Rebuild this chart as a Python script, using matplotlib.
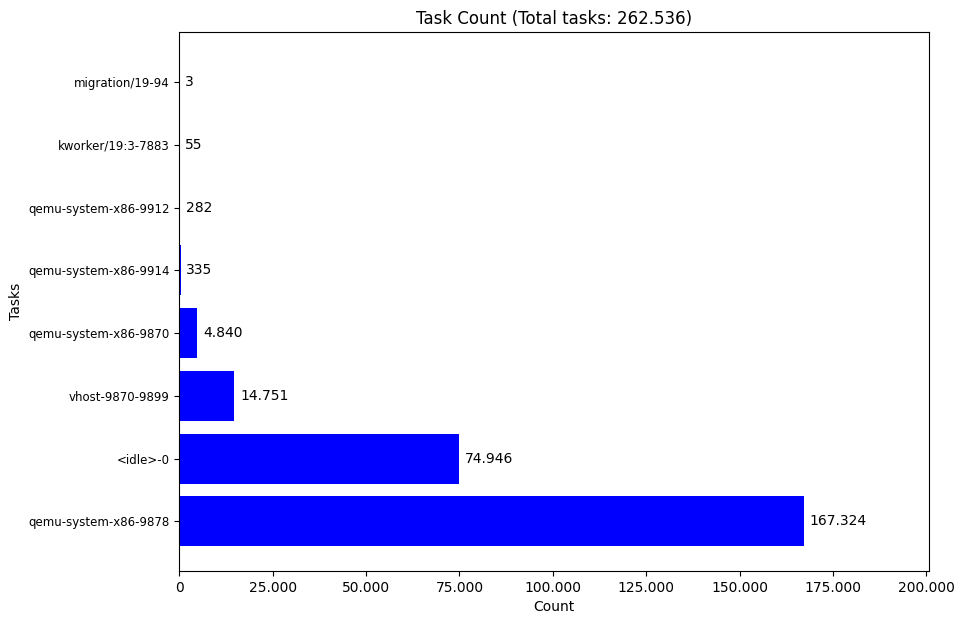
import matplotlib
matplotlib.use("Agg")
import matplotlib.pyplot as plt
from matplotlib.ticker import FuncFormatter

tasks = ["qemu-system-x86-9878", "<idle>-0", "vhost-9870-9899", "qemu-system-x86-9870",
         "qemu-system-x86-9914", "qemu-system-x86-9912", "kworker/19:3-7883", "migration/19-94"]
counts = [167324, 74946, 14751, 4840, 335, 282, 55, 3]


def dotted(v):
    return f"{int(v):,}".replace(",", ".")


fig, ax = plt.subplots(figsize=(9.64, 6.24), dpi=100)
fig.subplots_adjust(left=0.186, right=0.964, top=0.948, bottom=0.085)

ax.barh(tasks, counts, color="blue")
ax.set_xlim(0, max(counts) * 1.2)
for i, c in enumerate(counts):
    ax.text(c + 1500, i, dotted(c), va="center", fontsize=10)

ax.xaxis.set_major_formatter(FuncFormatter(lambda v, p: dotted(v)))
ax.tick_params(axis="y", labelsize=8.5)
ax.set_title(f"Task Count (Total tasks: {dotted(sum(counts))})")
ax.set_xlabel("Count")
ax.set_ylabel("Tasks")

fig.savefig("out.png")
